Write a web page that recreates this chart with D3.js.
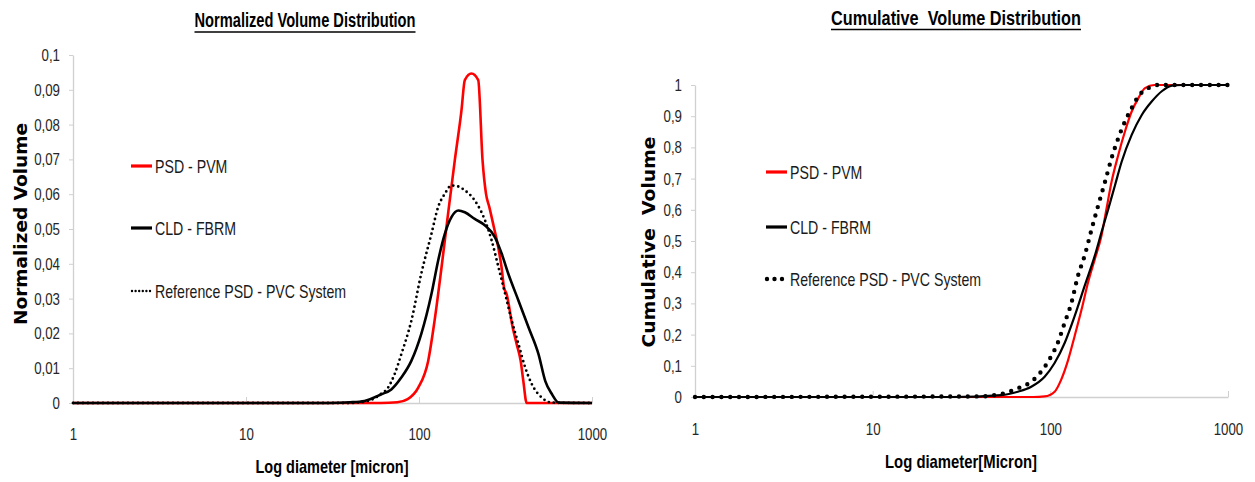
<!DOCTYPE html>
<html>
<head>
<meta charset="utf-8">
<script src="https://cdn.jsdelivr.net/npm/d3@7"></script>
<style>
  html, body { margin: 0; padding: 0; background: #fff; }
  svg { display: block; }
</style>
</head>
<body>
<svg id="chart" width="1255" height="482"></svg>
<script>
// ---------- data ----------
const seriesNames = ["PSD - PVM", "CLD - FBRM", "Reference PSD - PVC System"];

const xTickValues = [1, 10, 100, 1000];
const xTickLabels = ["1", "10", "100", "1000"];

const yTickValuesNorm = [0, 0.01, 0.02, 0.03, 0.04, 0.05, 0.06, 0.07, 0.08, 0.09, 0.1];
const yTickLabelsNorm = ["0", "0,01", "0,02", "0,03", "0,04", "0,05", "0,06", "0,07", "0,08", "0,09", "0,1"];

const yTickValuesCum = [0, 0.1, 0.2, 0.3, 0.4, 0.5, 0.6, 0.7, 0.8, 0.9, 1];
const yTickLabelsCum = ["0", "0,1", "0,2", "0,3", "0,4", "0,5", "0,6", "0,7", "0,8", "0,9", "1"];

// Normalized volume distribution
const psdDiam = [1, 60, 75, 86, 99, 113, 123, 135, 148, 161, 176, 184, 201, 220, 233, 244, 255, 271, 287, 300, 310, 321, 348, 367, 387, 401, 419, 1000];
const psdNorm = [0, 0, 0.0002, 0.0011, 0.0044, 0.0121, 0.0236, 0.039, 0.0553, 0.0697, 0.0841, 0.0928, 0.0947, 0.0928, 0.0697, 0.0601, 0.0563, 0.0505, 0.0448, 0.039, 0.0332, 0.0313, 0.0217, 0.0169, 0.0121, 0.0063, 0, 0];

const cldDiam = [1, 30, 40, 48.4, 60.5, 69.2, 79, 90.3, 103, 118, 129, 141, 154, 169, 184, 210, 241, 275, 301, 329, 376, 430, 491, 537, 587, 642, 1000];
const cldNorm = [0, 0, 0.0002, 0.0006, 0.0025, 0.0039, 0.0073, 0.0121, 0.0198, 0.0313, 0.0409, 0.0486, 0.0534, 0.0553, 0.0548, 0.0529, 0.051, 0.0476, 0.0428, 0.037, 0.0294, 0.0217, 0.014, 0.0063, 0.0025, 0.0001, 0];

const refDiam = [1, 40, 50, 60, 66.2, 72.3, 79, 90.3, 103, 118, 129, 141, 154, 169, 184, 210, 241, 263, 288, 315, 344, 376, 411, 449, 514, 587, 1000];
const refNorm = [0, 0, 0.0005, 0.0025, 0.0044, 0.0083, 0.014, 0.0236, 0.0371, 0.0486, 0.0563, 0.0601, 0.0625, 0.0622, 0.0611, 0.0582, 0.0524, 0.0467, 0.039, 0.0313, 0.0236, 0.0169, 0.0102, 0.0054, 0.0015, 0.0001, 0];

// Cumulative volume distribution
const psdCumDiam = [1, 60, 80, 92.9, 105.7, 115, 126, 137, 150, 163, 178, 194, 207, 221, 241, 263, 287, 313, 341, 385, 1000];
const psdCum = [0, 0, 0, 0.002, 0.017, 0.055, 0.119, 0.195, 0.281, 0.367, 0.442, 0.517, 0.603, 0.689, 0.775, 0.851, 0.915, 0.958, 0.99, 1, 1];

const cldCumDiam = [1, 27.6, 52.9, 65.7, 78.1, 92.9, 105.7, 120.4, 137, 156, 178, 194, 212, 231, 252, 287, 327, 372, 424, 483, 550, 1000];
const cldCum = [0, 0, 0.006, 0.017, 0.033, 0.065, 0.109, 0.173, 0.259, 0.356, 0.453, 0.528, 0.603, 0.678, 0.754, 0.84, 0.904, 0.947, 0.98, 0.998, 1, 1];

const refCumDiam = [1, 40, 55, 65.7, 78.1, 89, 101, 110, 120.4, 131.5, 143, 156, 171, 186, 203, 221, 241, 263, 287, 313, 356, 406, 1000];
const refCum = [0, 0.002, 0.012, 0.028, 0.049, 0.082, 0.13, 0.173, 0.238, 0.302, 0.388, 0.453, 0.539, 0.614, 0.689, 0.765, 0.829, 0.883, 0.926, 0.964, 0.99, 1, 1];

// ---------- drawing ----------
const svg = d3.select("#chart");
const SANS = "'Liberation Sans', Arial, sans-serif";
const WIDE = "'DejaVu Sans', Verdana, sans-serif";
const AXIS_GRAY = "#d0d0d0";

function zip(a, b) { return a.map((v, i) => [v, b[i]]); }

// compress text horizontally (reference uses a condensed face)
function squeeze(sel, k) {
  sel.each(function () {
    const w = this.getComputedTextLength();
    d3.select(this).attr("textLength", w * k).attr("lengthAdjust", "spacingAndGlyphs");
  });
}

function drawPanel(cfg) {
  const g = svg.append("g");
  const x = d3.scaleLog().domain([1, 1000]).range([cfg.x0, cfg.x1]);
  const y = d3.scaleLinear().domain(cfg.yDomain).range([cfg.y0, cfg.y1]);

  // y axis
  const yAxis = d3.axisLeft(y).tickValues(cfg.yTicks)
    .tickFormat((d, i) => cfg.yLabels[i]).tickSize(4).tickSizeOuter(0).tickPadding(9);
  const ya = g.append("g").attr("transform", `translate(${cfg.x0},0)`).call(yAxis);
  ya.select(".domain").attr("stroke", AXIS_GRAY).attr("stroke-width", 1.3);
  ya.selectAll(".tick line").attr("stroke", AXIS_GRAY);
  ya.selectAll(".tick text").attr("font-family", SANS).attr("font-size", 17).attr("fill", "#262626")
    .call(squeeze, 0.78);

  // x axis
  const xAxis = d3.axisBottom(x).tickValues(xTickValues)
    .tickFormat((d, i) => xTickLabels[i]).tickSize(-6).tickSizeOuter(0).tickPadding(cfg.xPad);
  const xa = g.append("g").attr("transform", `translate(0,${cfg.y0})`).call(xAxis);
  xa.select(".domain").attr("stroke", AXIS_GRAY).attr("stroke-width", 1.3);
  xa.selectAll(".tick line").attr("stroke", AXIS_GRAY);
  xa.selectAll(".tick text").attr("font-family", SANS).attr("font-size", 17).attr("fill", "#262626")
    .call(squeeze, 0.78);

  const line = d3.line().x(d => x(d[0])).y(d => y(d[1])).curve(d3.curveMonotoneX);

  cfg.series.forEach(s => {
    g.append("path").datum(zip(s.xs, s.ys))
      .attr("d", line)
      .attr("fill", "none")
      .attr("stroke", s.color)
      .attr("stroke-width", s.width)
      .attr("stroke-linecap", s.dash ? "round" : "butt")
      .attr("stroke-linejoin", "round")
      .attr("stroke-dasharray", s.dash || null);
  });

  // legend
  cfg.series.forEach((s, i) => {
    const ly = cfg.legendY[i];
    g.append("line")
      .attr("x1", cfg.legendX + (s.dash ? 1 : 0)).attr("x2", cfg.legendX + 21)
      .attr("y1", ly).attr("y2", ly)
      .attr("stroke", s.color)
      .attr("stroke-width", s.dash ? s.legendWidth : 3.2)
      .attr("stroke-linecap", s.dash ? "round" : "butt")
      .attr("stroke-dasharray", s.dash ? s.legendDash : null);
    g.append("text")
      .attr("x", cfg.legendX + 24).attr("y", ly).attr("dy", "0.36em")
      .attr("font-family", SANS).attr("font-size", 19).attr("fill", "#1a1a1a")
      .text(seriesNames[i])
      .call(squeeze, 0.745);
  });

  // title with underline
  const t = g.append("text")
    .attr("x", cfg.titleX).attr("y", cfg.titleY)
    .attr("text-anchor", "middle")
    .attr("font-family", SANS).attr("font-weight", "bold").attr("font-size", cfg.titleSize)
    .attr("fill", "#000")
    .style("white-space", "pre")
    .attr("textLength", cfg.titleW).attr("lengthAdjust", "spacingAndGlyphs")
    .text(cfg.title);
  g.append("line")
    .attr("x1", cfg.titleX - cfg.titleW / 2).attr("x2", cfg.titleX + cfg.titleW / 2)
    .attr("y1", cfg.titleY + cfg.ulOff).attr("y2", cfg.titleY + cfg.ulOff)
    .attr("stroke", "#000").attr("stroke-width", 1.5);

  // axis titles
  g.append("text")
    .attr("transform", `translate(${cfg.yLabelX},${cfg.yLabelY}) rotate(-90)`)
    .attr("text-anchor", "middle").attr("dy", "0.36em")
    .attr("font-family", WIDE).attr("font-weight", "bold").attr("font-size", 18)
    .attr("fill", "#000")
    .style("white-space", "pre")
    .attr("textLength", cfg.yLabelW).attr("lengthAdjust", "spacingAndGlyphs")
    .text(cfg.yLabel);
  g.append("text")
    .attr("x", cfg.xLabelX).attr("y", cfg.xLabelY).attr("dy", "0.36em")
    .attr("text-anchor", "middle")
    .attr("font-family", SANS).attr("font-weight", "bold").attr("font-size", 19)
    .attr("fill", "#000")
    .attr("textLength", cfg.xLabelW).attr("lengthAdjust", "spacingAndGlyphs")
    .text(cfg.xLabel);
}

drawPanel({
  x0: 73, x1: 592, y0: 403, y1: 55, yDomain: [0, 0.1],
  yTicks: yTickValuesNorm, yLabels: yTickLabelsNorm, xPad: 25,
  series: [
    { xs: psdDiam, ys: psdNorm, color: "#ff0000", width: 2.6 },
    { xs: cldDiam, ys: cldNorm, color: "#000000", width: 2.6 },
    { xs: refDiam, ys: refNorm, color: "#000000", width: 2.8, dash: "0,5", legendDash: "0,3.6", legendWidth: 2.4 }
  ],
  legendX: 131, legendY: [166, 228, 291],
  title: "Normalized Volume Distribution", titleX: 305, titleY: 27, titleSize: 20, titleW: 221, ulOff: 5,
  yLabel: "Normalized Volume", yLabelX: 21, yLabelY: 224, yLabelW: 202,
  xLabel: "Log diameter [micron]", xLabelX: 332, xLabelY: 466, xLabelW: 153
});

drawPanel({
  x0: 695, x1: 1228, y0: 397, y1: 85, yDomain: [0, 1],
  yTicks: yTickValuesCum, yLabels: yTickLabelsCum, xPad: 26,
  series: [
    { xs: psdCumDiam, ys: psdCum, color: "#ff0000", width: 2.2 },
    { xs: cldCumDiam, ys: cldCum, color: "#000000", width: 2.2 },
    { xs: refCumDiam, ys: refCum, color: "#000000", width: 4.4, dash: "0,8.8", legendDash: "0,7.5", legendWidth: 4.4 }
  ],
  legendX: 766, legendY: [172, 227, 279],
  title: "Cumulative  Volume Distribution", titleX: 956, titleY: 25, titleSize: 21, titleW: 250, ulOff: 4.5,
  yLabel: "Cumulative  Volume", yLabelX: 649, yLabelY: 242, yLabelW: 211,
  xLabel: "Log diameter[Micron]", xLabelX: 961, xLabelY: 461, xLabelW: 152
});
</script>
</body>
</html>
